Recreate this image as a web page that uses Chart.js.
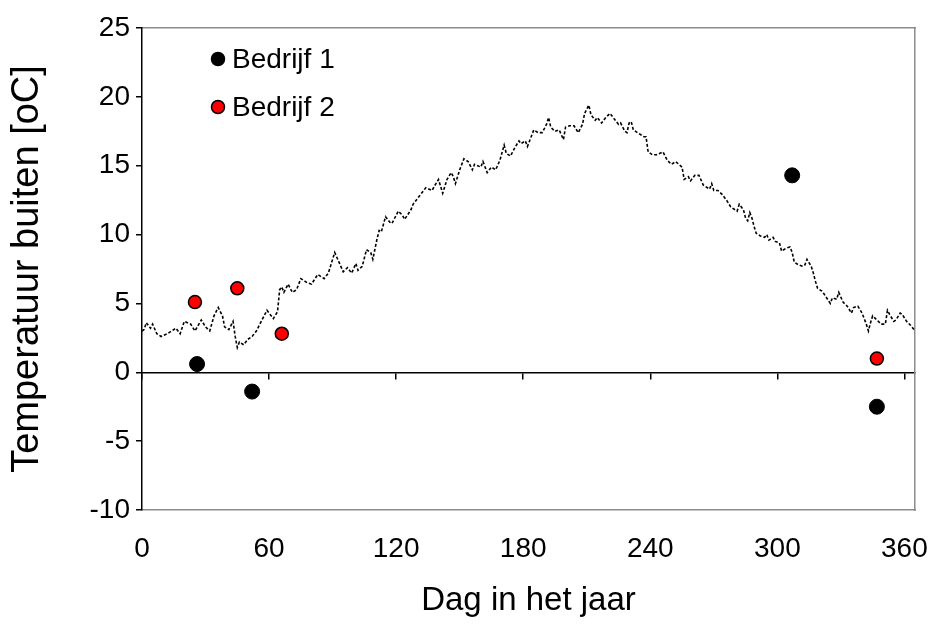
<!DOCTYPE html>
<html>
<head>
<meta charset="utf-8">
<script src="https://cdn.jsdelivr.net/npm/chart.js@4"></script>
<style>
  html, body { margin: 0; padding: 0; background: #fff; }
  #wrap { width: 935px; height: 624px; }
</style>
</head>
<body>
<div id="wrap"><canvas id="c" width="935" height="624"></canvas></div>
<script>
// ---- data ----
const tempDays = [0,1,2,4,5,7,9,12,14,16,18,20,23,25,28,30,32,34,36,38,39,41,43,44,45,46,48,50,52,54,56,59,60,62,64,65,66,67,69,71,73,
  75,78,80,83,86,88,90,91,93,95,97,99,101,102,104,106,108,109,111,112,113,115,117,118,121,123,124,127,128,130,133,134,137,138,140,142,144,146,147,
  148,150,152,154,156,157,160,161,163,165,167,169,171,172,174,176,178,179,181,182,185,187,189,191,192,193,195,197,199,200,202,204,206,208,209,211,212,214,215,217,219,
  221,223,225,226,228,229,230,231,232,234,237,238,239,241,243,246,248,250,252,255,256,258,259,261,263,265,268,269,270,272,274,276,278,280,281,282,284,285,286,287,288,289,290,292,294,
  295,296,298,299,301,302,304,306,307,308,310,312,313,314,316,317,318,319,321,322,325,326,328,329,331,333,335,336,338,340,341,342,343,344,345,347,349,351,352,353,355,356,358,359,361,363,365];
const tempValues = [3.0,3.1,3.6,3.2,3.5,2.8,2.6,2.8,3.0,3.2,2.8,3.7,3.5,3.0,3.8,3.3,3.0,4.1,4.7,4.1,3.3,3.1,3.7,2.6,1.8,2.2,2.0,2.4,2.6,3.0,3.6,4.5,4.3,3.9,4.4,6.0,6.2,5.8,6.4,5.8,6.0,
  6.8,6.5,6.4,7.1,6.8,7.2,8.2,8.7,8.0,7.3,7.6,7.2,7.9,7.4,7.7,8.9,8.7,8.2,9.7,10.3,10.2,11.3,10.9,10.8,11.7,11.4,11.1,11.8,12.2,12.6,13.2,13.4,13.2,13.5,14.0,13.0,14.0,14.5,14.2,
  13.7,14.7,15.5,15.3,14.7,15.1,14.9,15.3,14.5,14.9,14.7,15.4,16.5,15.9,15.7,16.3,16.8,16.6,16.8,16.4,17.6,17.4,17.4,18.0,18.5,17.8,17.5,17.6,16.9,17.8,17.9,17.9,17.4,18.0,18.8,19.4,18.7,18.3,18.5,18.1,18.5,
  18.8,18.4,18.0,18.1,17.5,17.4,18.1,18.2,17.6,17.4,17.1,17.1,16.0,15.8,15.8,16.0,15.4,15.1,15.3,14.9,14.0,14.2,13.9,14.3,14.3,13.6,13.3,13.7,13.2,13.2,12.9,12.5,12.0,11.8,11.7,12.2,11.8,11.2,11.0,11.6,11.2,10.6,10.1,9.9,9.8,
  10.0,9.6,9.8,9.5,9.4,8.8,9.0,9.1,8.7,8.0,7.8,7.7,7.8,8.2,7.7,7.2,6.6,6.1,5.9,5.7,5.0,5.4,5.3,5.8,5.1,4.8,4.3,4.7,4.8,4.3,3.9,3.5,3.0,3.6,4.1,3.8,3.5,3.5,4.5,4.2,3.7,3.8,4.3,4.2,3.7,3.4,3.0];

const bedrijf1Days = [26, 52, 307, 347];
const bedrijf1Temps = [0.6, -1.4, 14.3, -2.5];
const bedrijf2Days = [25, 45, 66, 347];
const bedrijf2Temps = [5.1, 6.1, 2.8, 1.0];

const seriesNames = ['Bedrijf 1', 'Bedrijf 2'];
const xTickValues = [0, 60, 120, 180, 240, 300, 360];
const yTickValues = [-10, -5, 0, 5, 10, 15, 20, 25];
const xTitle = 'Dag in het jaar';
const yTitle = 'Temperatuur buiten [oC]';

// ---- chart ----
const FONT = "'Liberation Sans', Arial, sans-serif";
const toXY = (xs, ys) => xs.map((x, i) => ({ x: x, y: ys[i] }));
const setTicks = vals => scale => { scale.ticks = vals.map(v => ({ value: v })); };

const legendPlugin = {
  id: 'insideLegend',
  afterDatasetsDraw(chart) {
    const ctx = chart.ctx;
    const items = [chart.data.datasets[1], chart.data.datasets[2]];
    const ys = [59, 107];
    ctx.save();
    items.forEach((ds, i) => {
      ctx.beginPath();
      ctx.arc(218, ys[i], 6.5, 0, Math.PI * 2);
      ctx.fillStyle = ds.backgroundColor;
      ctx.fill();
      ctx.lineWidth = 1.5;
      ctx.strokeStyle = '#000';
      ctx.stroke();
      ctx.fillStyle = '#000';
      ctx.font = '28px ' + FONT;
      ctx.textBaseline = 'middle';
      ctx.textAlign = 'left';
      ctx.fillText(ds.label, 232, ys[i] + 1);
    });
    ctx.restore();
  }
};

new Chart(document.getElementById('c'), {
  type: 'scatter',
  data: {
    datasets: [
      {
        label: 'Temperatuur',
        data: toXY(tempDays, tempValues),
        showLine: true,
        borderColor: '#000',
        borderWidth: 1.6,
        borderDash: [3, 2],
        pointRadius: 0,
        fill: false,
        tension: 0
      },
      {
        label: seriesNames[0],
        data: toXY(bedrijf1Days, bedrijf1Temps),
        backgroundColor: '#000000',
        borderColor: '#000000',
        borderWidth: 1,
        pointRadius: 7.5,
        showLine: false
      },
      {
        label: seriesNames[1],
        data: toXY(bedrijf2Days, bedrijf2Temps),
        backgroundColor: '#ff0000',
        borderColor: '#000000',
        borderWidth: 1.5,
        pointRadius: 6.5,
        showLine: false
      }
    ]
  },
  options: {
    responsive: false,
    animation: false,
    devicePixelRatio: 1,
    layout: { padding: { top: 28, right: 20, left: 0, bottom: 0 } },
    plugins: { legend: { display: false }, tooltip: { enabled: false } },
    scales: {
      x: {
        type: 'linear', position: 'bottom', min: 0, max: 365,
        afterBuildTicks: setTicks(xTickValues),
        grid: { display: false, drawTicks: false },
        border: { display: true, color: '#8c8c8c', width: 1.5 },
        ticks: { color: '#000', font: { family: FONT, size: 28 }, padding: 22, maxRotation: 0 },
        title: { display: true, text: xTitle, color: '#000', font: { family: FONT, size: 33 }, padding: { top: 0, bottom: 3 } },
        afterFit: s => { s.height = 114; s.paddingLeft = 0; s.paddingRight = 0; }
      },
      xZero: {
        type: 'linear', axis: 'x', position: { y: 0 }, min: 0, max: 365,
        afterBuildTicks: setTicks(xTickValues),
        grid: { display: true, drawOnChartArea: false, drawTicks: true, tickLength: 6, color: '#000', lineWidth: 1.5 },
        border: { display: true, color: '#000', width: 1.5 },
        ticks: { display: false, padding: 0 }
      },
      xTop: {
        type: 'linear', axis: 'x', position: 'top', min: 0, max: 365,
        grid: { display: false },
        border: { display: true, color: '#8c8c8c', width: 1.5 },
        ticks: { display: false, padding: 0 },
        afterFit: s => { s.height = 0; }
      },
      y: {
        type: 'linear', position: 'left', min: -10, max: 25,
        afterBuildTicks: setTicks(yTickValues),
        grid: { display: true, drawOnChartArea: false, drawTicks: true, tickLength: 6, color: '#000', lineWidth: 1.5 },
        border: { display: true, color: '#000', width: 1.5 },
        ticks: { color: '#000', font: { family: FONT, size: 28 }, padding: 6 },
        title: { display: true, text: yTitle, color: '#000', font: { family: FONT, size: 38 }, padding: { top: 5, bottom: 0 } },
        afterFit: s => { s.width = 142; }
      },
      yRight: {
        type: 'linear', axis: 'y', position: 'right', min: -10, max: 25,
        grid: { display: false },
        border: { display: true, color: '#8c8c8c', width: 1.5 },
        ticks: { display: false, padding: 0 },
        afterFit: s => { s.width = 0; }
      }
    }
  },
  plugins: [legendPlugin]
});
</script>
</body>
</html>
